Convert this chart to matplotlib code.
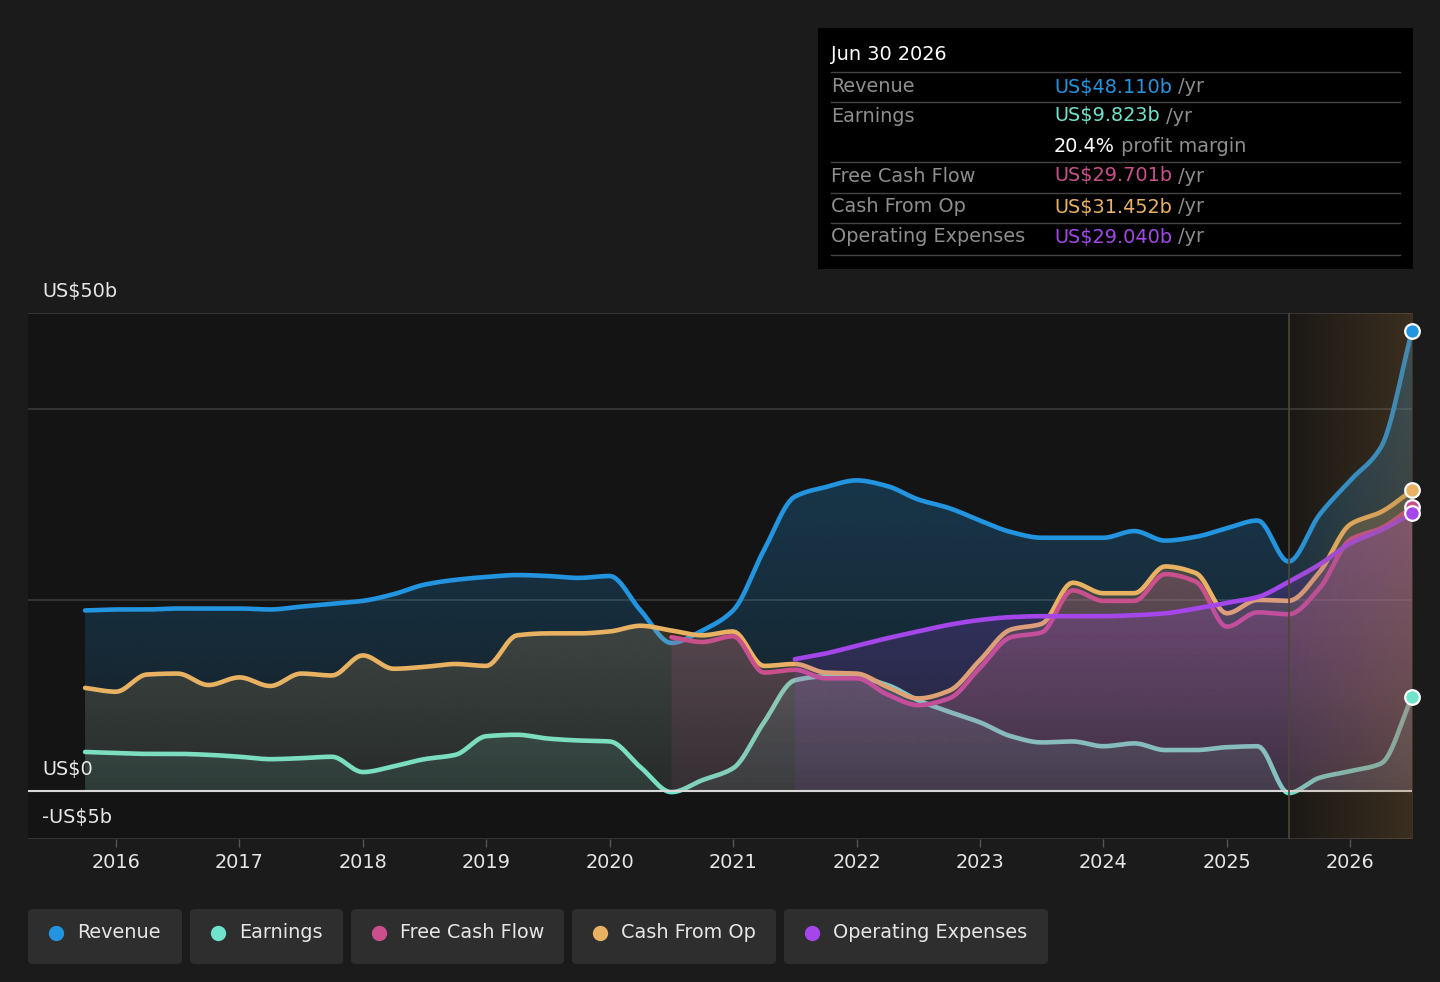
import numpy as np
import matplotlib
matplotlib.use("Agg")
import matplotlib.pyplot as plt
from matplotlib.patches import FancyBboxPatch, Rectangle
from matplotlib.colors import to_rgb

# ---------------- data (US$ billions, quarterly, decimal years) ----------------
t_all = [2015.75, 2016.0, 2016.25, 2016.5, 2016.75, 2017.0, 2017.25, 2017.5, 2017.75,
         2018.0, 2018.25, 2018.5, 2018.75, 2019.0, 2019.25, 2019.5, 2019.75,
         2020.0, 2020.25, 2020.5, 2020.75, 2021.0, 2021.25, 2021.5, 2021.75,
         2022.0, 2022.25, 2022.5, 2022.75, 2023.0, 2023.25, 2023.5, 2023.75,
         2024.0, 2024.25, 2024.5, 2024.75, 2025.0, 2025.25, 2025.5, 2025.75,
         2026.0, 2026.25, 2026.5]

revenue = [18.9, 19.0, 19.0, 19.1, 19.1, 19.1, 19.0, 19.3, 19.6,
           19.9, 20.6, 21.6, 22.1, 22.4, 22.6, 22.5, 22.3,
           22.5, 18.9, 15.5, 16.8, 18.9, 25.2, 30.8, 31.8,
           32.5, 31.9, 30.5, 29.6, 28.3, 27.1, 26.5, 26.5,
           26.5, 27.2, 26.2, 26.6, 27.5, 28.3, 24.0, 28.9,
           32.5, 36.0, 48.11]

earnings = [4.1, 4.0, 3.9, 3.9, 3.8, 3.6, 3.35, 3.45, 3.6,
            2.0, 2.6, 3.35, 3.8, 5.75, 5.9, 5.5, 5.3,
            5.2, 2.5, -0.1, 1.15, 2.4, 7.2, 11.6, 12.0,
            11.9, 11.1, 9.5, 8.3, 7.2, 5.75, 5.1, 5.2,
            4.7, 5.0, 4.3, 4.3, 4.6, 4.7, -0.2, 1.4,
            2.1, 2.9, 9.823]

cash_from_op = [10.8, 10.4, 12.2, 12.3, 11.1, 11.9, 11.0, 12.3, 12.1,
                14.2, 12.8, 13.0, 13.3, 13.1, 16.3, 16.5, 16.5,
                16.7, 17.3, 16.8, 16.3, 16.7, 13.1, 13.3, 12.4,
                12.3, 10.9, 9.7, 10.5, 13.7, 16.9, 17.5, 21.8,
                20.7, 20.7, 23.5, 22.8, 18.6, 20.0, 19.9, 22.9,
                27.9, 29.2, 31.452]

t_fcf = t_all[19:]
free_cash_flow = [16.1, 15.6, 16.2, 12.4, 12.7, 11.8,
                  11.8, 10.1, 9.0, 9.7, 12.9, 16.1, 16.6, 21.0,
                  19.9, 19.9, 22.7, 21.9, 17.2, 18.7, 18.5, 21.2,
                  26.3, 27.5, 29.701]

t_opex = t_all[23:]
operating_expenses = [13.8, 14.4, 15.2, 16.0, 16.7, 17.4, 17.9, 18.2, 18.3, 18.3,
                      18.3, 18.4, 18.6, 19.1, 19.7, 20.3, 21.9, 23.7,
                      25.9, 27.3, 29.04]

series_names = ["Revenue", "Earnings", "Free Cash Flow", "Cash From Op", "Operating Expenses"]
colors = {"Revenue": "#2394df", "Earnings": "#6fe3cc", "Free Cash Flow": "#c9508c",
          "Cash From Op": "#e9b262", "Operating Expenses": "#a546ea"}

forecast_start = 2025.5
y_ticks = [50, 0, -5]
y_tick_labels = ["US$50b", "US$0", "-US$5b"]
grid_vals = [20, 40, 50]
x_years = list(range(2016, 2027))

tooltip_date = "Jun 30 2026"
tooltip_rows = [("Revenue", "US$48.110b", " /yr", colors["Revenue"]),
                ("Earnings", "US$9.823b", " /yr", colors["Earnings"]),
                ("", "20.4%", " profit margin", "#ffffff"),
                ("Free Cash Flow", "US$29.701b", " /yr", colors["Free Cash Flow"]),
                ("Cash From Op", "US$31.452b", " /yr", colors["Cash From Op"]),
                ("Operating Expenses", "US$29.040b", " /yr", colors["Operating Expenses"])]


def smooth(x, y, n=12):
    """Monotone cubic (Fritsch-Carlson) rendering of the line through the points."""
    x = np.asarray(x, float); y = np.asarray(y, float)
    h = np.diff(x); d = np.diff(y) / h
    m = np.zeros_like(y)
    m[0], m[-1] = d[0], d[-1]
    for i in range(1, len(y) - 1):
        if d[i - 1] * d[i] <= 0:
            m[i] = 0
        else:
            w1 = 2 * h[i] + h[i - 1]; w2 = h[i] + 2 * h[i - 1]
            m[i] = (w1 + w2) / (w1 / d[i - 1] + w2 / d[i])
    xs, ys = [], []
    for i in range(len(h)):
        s = np.linspace(0, 1, n, endpoint=False)
        h00 = 2 * s**3 - 3 * s**2 + 1; h10 = s**3 - 2 * s**2 + s
        h01 = -2 * s**3 + 3 * s**2; h11 = s**3 - s**2
        xs.append(x[i] + s * h[i])
        ys.append(h00 * y[i] + h10 * h[i] * m[i] + h01 * y[i + 1] + h11 * h[i] * m[i + 1])
    xs.append([x[-1]]); ys.append([y[-1]])
    return np.concatenate(xs), np.concatenate(ys)


W, H = 1440, 982
FS = 13.9
fig = plt.figure(figsize=(W / 100, H / 100), dpi=100, facecolor="#1b1b1b")
plt.rcParams['font.family'] = ['DejaVu Sans']

ax_l, ax_r, ax_t, ax_b = 28, 1412, 313, 839
ax = fig.add_axes([ax_l / W, 1 - ax_b / H, (ax_r - ax_l) / W, (ax_b - ax_t) / H])
ax.set_facecolor("#141414")
x0 = 2016 + (ax_l - 116) / 123.5
x1 = 2026.5
ax.set_xlim(x0, x1)
ax.set_ylim(-5, 50)
for s in ax.spines.values():
    s.set_visible(False)

# grid
for g in grid_vals:
    ax.axhline(g, color="#3a3a3a", lw=1.2, zorder=0.7)
ax.axhline(-5, color="#3a3a3a", lw=1.2, zorder=0.7)

data = {"Revenue": (t_all, revenue), "Earnings": (t_all, earnings),
        "Cash From Op": (t_all, cash_from_op), "Free Cash Flow": (t_fcf, free_cash_flow),
        "Operating Expenses": (t_opex, operating_expenses)}
order = ["Revenue", "Earnings", "Cash From Op", "Free Cash Flow", "Operating Expenses"]

ny = 300
yy = np.linspace(-5, 50, ny)
alpha_col = np.clip(0.09 + 0.0055 * yy, 0.05, 0.36)

for i, name in enumerate(order):
    tx, ty = data[name]
    xs, ys = smooth(tx, ty)
    z = 1 + i
    poly = ax.fill_between(xs, 0, ys, facecolor="none", lw=0, zorder=z)
    rgb = to_rgb(colors[name])
    img = np.zeros((ny, 2, 4))
    img[..., 0], img[..., 1], img[..., 2] = rgb
    img[..., 3] = alpha_col[:, None]
    im = ax.imshow(img, extent=[x0, x1, -5, 50], origin="lower", aspect="auto",
                   interpolation="bilinear", zorder=z)
    im.set_clip_path(poly.get_paths()[0], transform=ax.transData)
    ax.plot(xs, ys, color=colors[name], lw=3.3, solid_capstyle="round", zorder=z + 0.5)

ax.axhline(0, color="#d8d8d8", lw=1.5, zorder=7)

# forecast shading overlay (gradient)
fimg = np.zeros((1, 256, 4))
fimg[..., 0], fimg[..., 1], fimg[..., 2] = 150 / 255, 110 / 255, 57 / 255
fimg[..., 3] = np.linspace(0.05, 0.30, 256)[None, :]
ax.imshow(fimg, extent=[forecast_start, x1, -5, 50], aspect="auto", origin="lower",
          interpolation="bilinear", zorder=8)
ax.axvline(forecast_start, color="#4d4638", lw=1.2, zorder=8.5)

for i, name in enumerate(order):
    tx, ty = data[name]
    ax.plot([tx[-1]], [ty[-1]], "o", ms=10.5, mfc=colors[name], mec="white", mew=1.6,
            zorder=10 + i * 0.1, clip_on=False)

ax.set_yticks([])
ax.set_xticks(x_years)
ax.set_xticklabels([str(y) for y in x_years], fontsize=FS)
ax.tick_params(axis="x", colors="#555555", length=6, width=1, pad=4, labelcolor="#e6e6e6")

# y labels
for val, lab in zip(y_ticks, y_tick_labels):
    py = 791 - val * 9.56
    fig.text(42 / W, 1 - (py - 12) / H, lab, color="#e6e6e6", fontsize=FS, ha="left", va="bottom")

# tooltip box
fig.patches.append(Rectangle((818 / W, 1 - 269 / H), (1413 - 818) / W, (269 - 28) / H,
                             transform=fig.transFigure, facecolor="#000000", edgecolor="none"))
fig.text(831 / W, 1 - 55 / H, tooltip_date, color="#ffffff", fontsize=FS, va="center")
row_y = [87, 116, 146, 176, 207, 237]
sep_y = [72, 102, 162, 193, 223, 255]
for sy in sep_y:
    fig.lines.append(plt.Line2D([831 / W, 1400 / W], [1 - sy / H, 1 - sy / H],
                                transform=fig.transFigure, color="#444444", lw=1))
renderer = fig.canvas.get_renderer()
for (lab, val, suf, col), ry in zip(tooltip_rows, row_y):
    fy = 1 - ry / H
    if lab:
        fig.text(831 / W, fy, lab, color="#8e8e8e", fontsize=FS, va="center")
    t = fig.text(1054 / W, fy, val, color=col, fontsize=FS, va="center")
    bb = t.get_window_extent(renderer=renderer)
    fig.text(bb.x1 / W, fy, suf, color="#8e8e8e", fontsize=FS, va="center")

# legend buttons
legend_boxes = [(28, 182), (190, 343), (351, 564), (572, 776), (784, 1048)]
for name, (bx0, bx1) in zip(series_names, legend_boxes):
    fig.patches.append(FancyBboxPatch((bx0 / W, 1 - 964 / H), (bx1 - bx0) / W, (964 - 909) / H,
                                      boxstyle="round,pad=0,rounding_size=0.004",
                                      transform=fig.transFigure, facecolor="#2e2e2e",
                                      edgecolor="none"))
    fig.lines.append(plt.Line2D([(bx0 + 28) / W], [1 - 933 / H], marker="o", ms=10,
                                color=colors[name], transform=fig.transFigure, lw=0))
    fig.text((bx0 + 49) / W, 1 - 933 / H, name, color="#e6e6e6", fontsize=FS, va="center")

fig.savefig("out.png", dpi=100, facecolor=fig.get_facecolor())
